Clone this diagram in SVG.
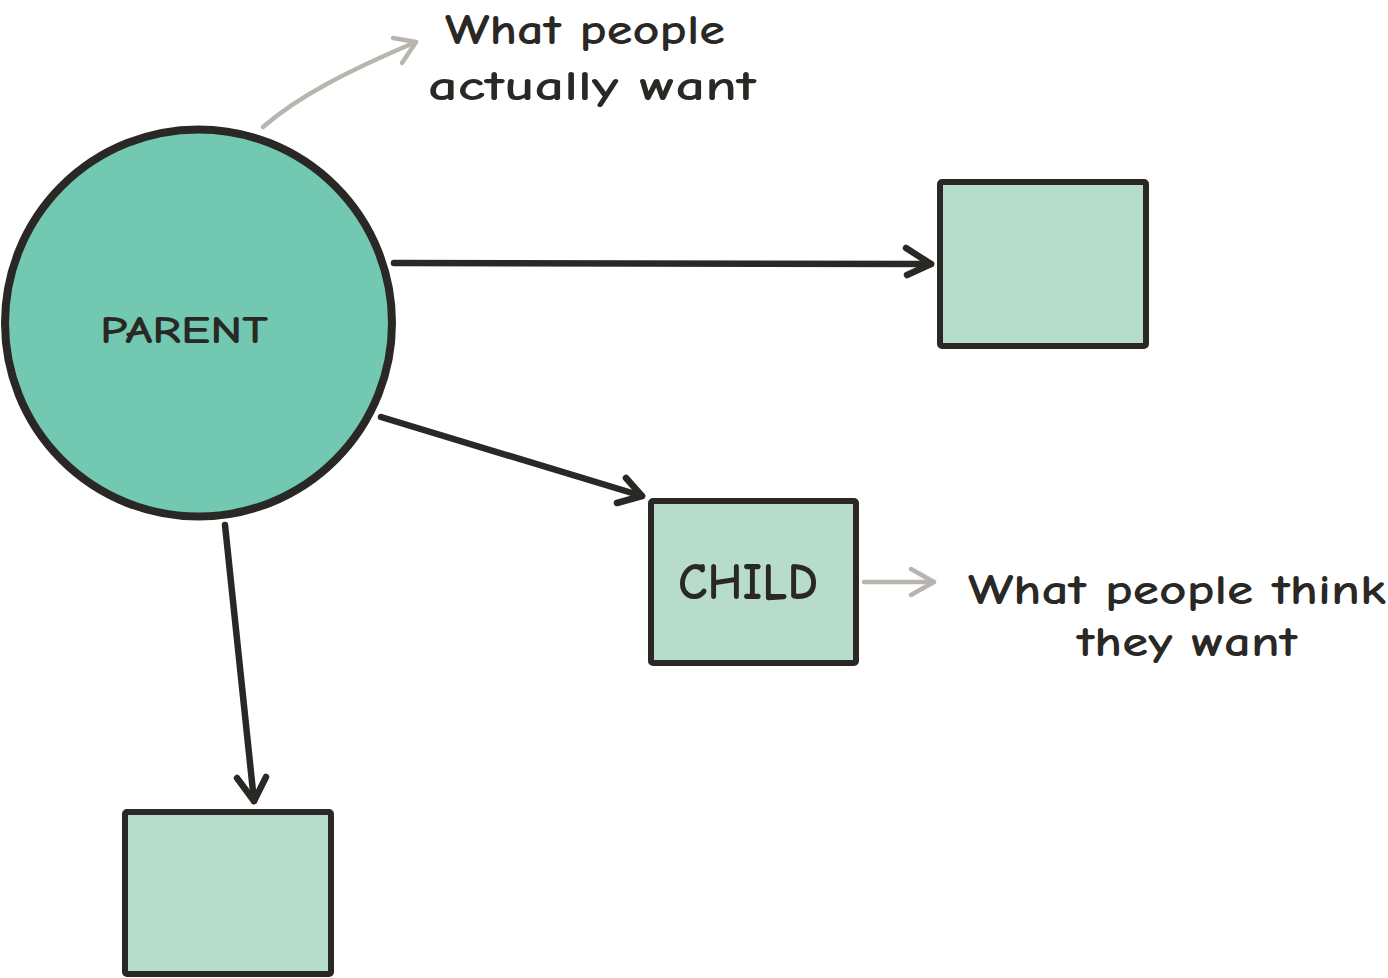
<svg xmlns="http://www.w3.org/2000/svg" width="1388" height="978" viewBox="0 0 1388 978">
<style>
.ink{fill:none;stroke:#2a2825;stroke-width:6.5;stroke-linecap:round;stroke-linejoin:round}
.gray{fill:none;stroke:#b8b5ae;stroke-width:4.5;stroke-linecap:round;stroke-linejoin:round}
.box{fill:#b8dccb;stroke:#2a2825;stroke-width:6;stroke-linejoin:round}
.hand{font-family:"Comic Neue","Liberation Sans","DejaVu Sans",sans-serif;fill:#2a2825;font-weight:700}
</style>
<rect width="1388" height="978" fill="#ffffff"/>
<g id="connectors">
<path class="ink" d="M394 263 L931 264"/>
<path class="ink" d="M906 248 L931 264 L907 275"/>
<path class="ink" d="M381 417 L642 496"/>
<path class="ink" d="M626 478 L642 496 L617 503"/>
<path class="ink" d="M225 525 L254 801"/>
<path class="ink" d="M237 778 L254 801 L266 777"/>
<path class="gray" d="M263 127 C300 95 350 70 416 42"/>
<path class="gray" d="M393 38 L416 42 L402 63"/>
<path class="gray" d="M864 582 L934 582"/>
<path class="gray" d="M911 569 L934 582 L911 595"/>
</g>
<g id="parent">
<circle cx="198.5" cy="323" r="193.5" fill="#72c8b0" stroke="#2a2825" stroke-width="8"/>
<text class="hand" x="100" y="343" font-size="38" textLength="168" lengthAdjust="spacingAndGlyphs">PARENT</text>
</g>
<g id="box-top">
<rect class="box" x="940" y="182" width="206" height="164" rx="2"/>
</g>
<g id="child">
<rect class="box" x="651" y="501" width="205" height="162" rx="2"/>
<text class="hand" x="678" y="599" font-size="52" textLength="140" lengthAdjust="spacingAndGlyphs">CHILD</text>
</g>
<g id="box-bottom">
<rect class="box" x="125" y="812" width="206" height="162" rx="2"/>
</g>
<g id="note-actual">
<text class="hand" x="445" y="44" font-size="42" textLength="280" lengthAdjust="spacingAndGlyphs">What people</text>
<text class="hand" x="428" y="100" font-size="42" textLength="328" lengthAdjust="spacingAndGlyphs">actually want</text>
</g>
<g id="note-think">
<text class="hand" x="968" y="604" font-size="42" textLength="418" lengthAdjust="spacingAndGlyphs">What people think</text>
<text class="hand" x="1077" y="656" font-size="42" textLength="220" lengthAdjust="spacingAndGlyphs">they want</text>
</g>
</svg>
